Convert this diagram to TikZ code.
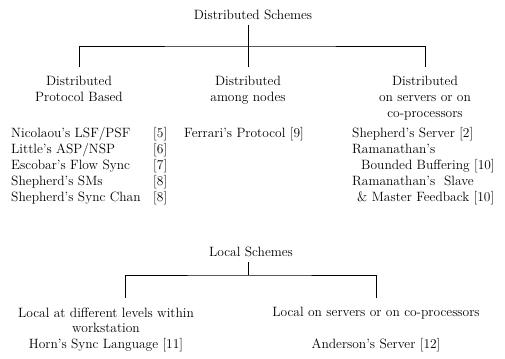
\documentclass[tikz,border=0pt]{standalone}
\begin{document}
\begin{tikzpicture}[x=0.03cm, y=-0.03cm,
  font=\fontsize{11.5}{13.4}\selectfont,
  branch/.style={line width=0.7pt},
  head/.style={align=center, inner xsep=0pt, inner ysep=4pt},
  scheme/.style={align=center, anchor=north, inner xsep=0pt, inner ysep=8pt},
  entry/.style={anchor=base west, inner sep=0pt}]
\useasboundingbox (0,0) rectangle (505,358);

% Distributed schemes
\node[head] (dist) at (253,15) {Distributed Schemes};
\node[scheme] (dproto) at (79,67) {Distributed\\Protocol Based};
\node[scheme] (dnodes) at (248,67) {Distributed\\among nodes};
\node[scheme] (dserv) at (425,67) {Distributed\\on servers or on\\co-processors};
\coordinate (dj) at (248,46);
\draw[branch] (dist.south -| dj) -- (dj);
\draw[branch] (dproto.north) |- (dj) -| (dserv.north);
\draw[branch] (dj) -- (dnodes.north);

% protocol based entries
\foreach \txt/\rf [count=\i from 0] in {{Nicolaou's LSF/PSF}/5, {Little's ASP/NSP}/6,
    {Escobar's Flow Sync}/7, {Shepherd's SMs}/8, {Shepherd's Sync Chan}/8}
  {
    \node[entry] (dp\i) at (11,137+16*\i) {\txt};
    \node[entry] (dpref\i) at (153,137+16*\i) {[\rf]};
  }
\node[entry] (dn0) at (184,137) {Ferrari's Protocol [9]};

% server entries
\node[entry] (ds0) at (352,137) {Shepherd's Server [2]};
\node[entry] (ds1) at (352,153) {Ramanathan's};
\node[entry] (ds2) at (361,169) {Bounded Buffering [10]};
\node[entry] (ds3) at (352,185) {Ramanathan's\ \ Slave};
\node[entry] (ds4) at (357,201) {\&\ Master Feedback [10]};

% Local schemes
\node[head] (loc) at (251,252) {Local Schemes};
\node[scheme] (lwork) at (106,298) {Local at different levels within\\workstation\\Horn's Sync Language [11]};
\node[scheme] (lserv) at (376,298) {Local on servers or on co-processors\\[13.4pt]Anderson's Server [12]};
\coordinate (lj) at (248,275);
\coordinate (lfoot) at (125,298);
\draw[branch] (loc.south -| lj) -- (lj);
\draw[branch] (lfoot) |- (lj) -| (lserv.north);
\end{tikzpicture}
\end{document}
